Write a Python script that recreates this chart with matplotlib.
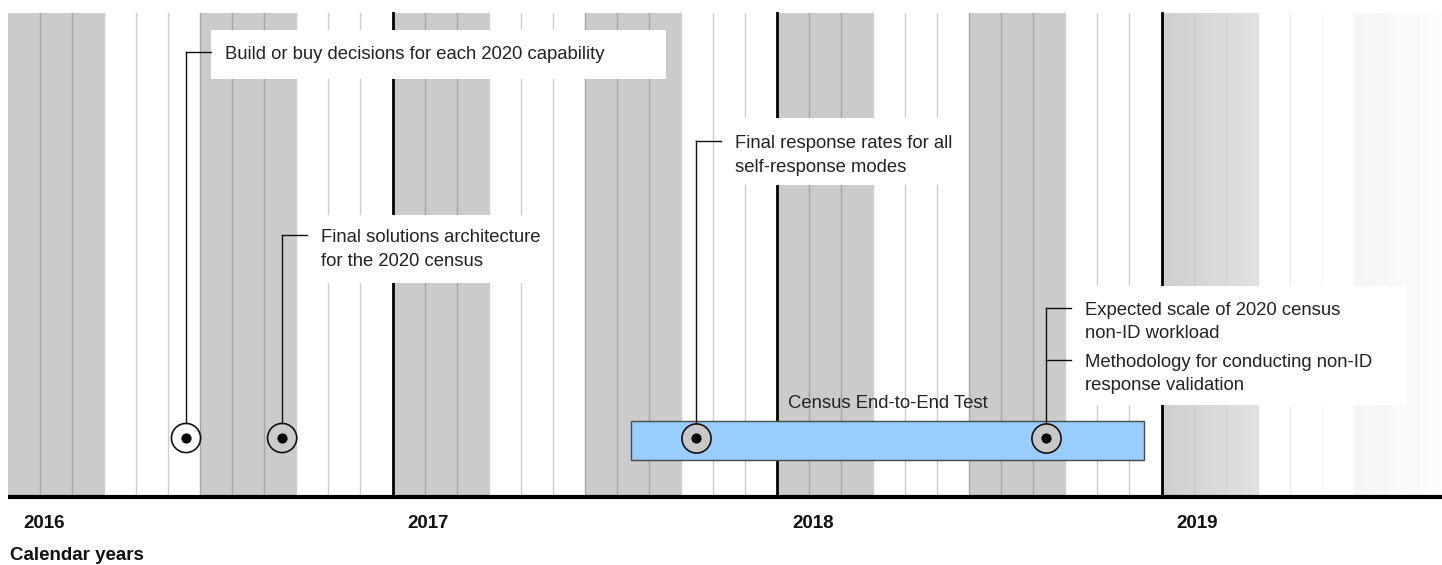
#!/usr/bin/env python3
"""
Census 2020 decision timeline: milestones over calendar years 2016-2019.
"""

import numpy as np
import matplotlib.pyplot as plt
from matplotlib.colors import LinearSegmentedColormap
from matplotlib.patches import Rectangle

plt.rcParams['font.family'] = ['Liberation Sans', 'DejaVu Sans']

# --- data -------------------------------------------------------------
years = [2016, 2017, 2018, 2019]
year_labels = ['2016', '2017', '2018', '2019']
timeline_start = 2016.0
timeline_end = 2019.75
# quarters that get a grey band (first and third quarter of each year)
shaded_quarters = [2016.0, 2016.5, 2017.0, 2017.5, 2018.0, 2018.5]

milestone_dates = [2016.463, 2016.713, 2017.789, 2018.699]
milestone_labels = [
    ['Build or buy decisions for each 2020 capability'],
    ['Final solutions architecture\nfor the 2020 census'],
    ['Final response rates for all\nself-response modes'],
    ['Expected scale of 2020 census\nnon-ID workload',
     'Methodology for conducting non-ID\nresponse validation'],
]
milestone_in_test = [False, False, True, True]

test_start = 2017.62
test_end = 2018.955
test_label = 'Census End-to-End Test'

axis_title = 'Calendar years'

# --- layout (pixels) --------------------------------------------------
W, H = 1442, 565
PX_PER_YEAR = 384.5
X0_PX = 8
TOP, BASE = 13, 497
MARK_Y = 438
leader_y = [[52], [235], [141], [308, 360]]
box_px = [(30, 79, 455), (215, 283, 241), (118, 185, 245), (286, 405, 335)]
FS = 13.3


def px(d):
    """pixel offset -> years"""
    return d / PX_PER_YEAR


fig = plt.figure(figsize=(W / 100, H / 100), dpi=100)
ax = fig.add_axes([0, 0, 1, 1])
ax.set_xlim(timeline_start - px(X0_PX), timeline_start + px(W - X0_PX))
ax.set_ylim(H, 0)
ax.axis('off')

# quarter bands
for q in shaded_quarters:
    ax.add_patch(Rectangle((q, TOP), 0.25, BASE - TOP, fc='#cbcbcb', ec='none', zorder=0))
# 2019 fades out
grad = np.linspace(0, 1, 100)[None, :]
ax.imshow(grad, extent=(2019.0, 2019.25, BASE, TOP), aspect='auto',
          cmap=LinearSegmentedColormap.from_list('f1', ['#cfcfcf', '#e2e2e2']), zorder=0)
ax.imshow(grad, extent=(2019.5, timeline_end, BASE, TOP), aspect='auto',
          cmap=LinearSegmentedColormap.from_list('f2', ['#f5f5f5', '#fefefe']), zorder=0)

# month lines
months = np.arange(timeline_start, timeline_end, 1 / 12)
for m in months:
    if abs(m - round(m)) < 1e-6:
        continue
    qstart = np.floor(m * 4 + 1e-6) / 4
    shaded = any(abs(qstart - q) < 1e-6 for q in shaded_quarters)
    if m >= 2019:
        k = (m - 2019) * 12
        col = str(min(0.74 + 0.045 * k, 0.96))
    else:
        col = '#a6a6a6' if shaded else '#cccccc'
    ax.plot([m, m], [TOP, BASE], color=col, lw=1, zorder=1)

for y in years[1:]:
    ax.plot([y, y], [TOP, BASE], color='black', lw=2, zorder=1)

ax.plot([timeline_start, timeline_start + px(W)], [BASE, BASE], color='black', lw=3,
        solid_capstyle='butt', zorder=2)

# test bar
ax.add_patch(Rectangle((test_start, 421), test_end - test_start, 39,
                       fc='#99ccff', ec='#4a4a4a', lw=1, zorder=3))
ax.text((test_start + test_end) / 2, 404, test_label, ha='center', va='center',
        fontsize=FS, color='#222222', zorder=3)

# milestones
for d, labels, ly, (by0, by1, bw), in_test in zip(milestone_dates, milestone_labels,
                                                   leader_y, box_px, milestone_in_test):
    ax.add_patch(Rectangle((d + px(25), by0), px(bw), by1 - by0, fc='white', ec='none', zorder=2))
    ax.plot([d, d], [MARK_Y - 15, ly[0]], color='#111111', lw=1, zorder=4)
    for y, lab in zip(ly, labels):
        ax.plot([d, d + px(25)], [y, y], color='#111111', lw=1, zorder=4)
        ax.text(d + px(39), y - 6, lab, ha='left', va='top', fontsize=FS,
                color='#222222', linespacing=1.5, zorder=5)
    ax.scatter([d], [MARK_Y], s=440, marker='o',
               facecolors='#c8c8c8' if in_test else 'none',
               edgecolors='#111111', linewidths=1.2, zorder=5)
    ax.scatter([d], [MARK_Y], s=40, marker='o', color='black', zorder=6)

# year labels
for y, lab in zip(years, year_labels):
    ax.text(y + px(15), 523, lab, ha='left', va='center', fontsize=13.5,
            fontweight='bold', color='#111111')
ax.text(timeline_start + px(2), 555, axis_title, ha='left', va='center', fontsize=13.5,
        fontweight='bold', color='#111111')

plt.savefig('out.png', dpi=100)
